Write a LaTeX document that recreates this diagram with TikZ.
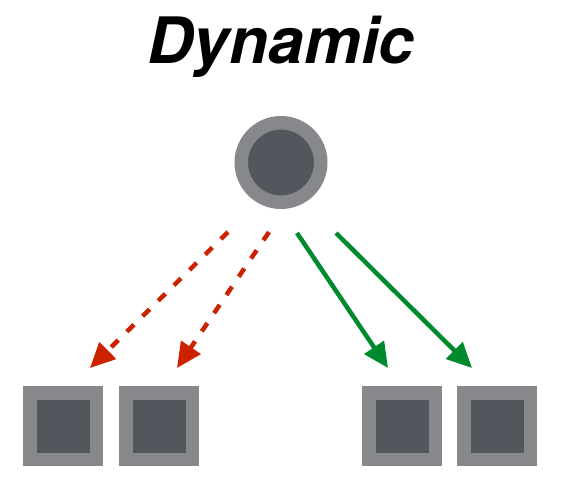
\documentclass[tikz,border=0pt]{standalone}
\usepackage{fontspec}
\setmainfont{TeX Gyre Heros}
\usetikzlibrary{arrows.meta, positioning}
\definecolor{ringgray}{HTML}{86888C}
\definecolor{coregray}{HTML}{53565D}
\definecolor{dynred}{HTML}{CC2200}
\definecolor{dyngreen}{HTML}{008A2E}

\begin{document}
\begin{tikzpicture}[x=1pt, y=-1pt,
    hub/.style={circle, draw=ringgray, line width=13.5pt, fill=coregray, minimum size=79.5pt, inner sep=0pt},
    slot/.style={rectangle, draw=ringgray, line width=13.5pt, fill=coregray, minimum size=66.5pt, inner sep=0pt},
    redarrow/.style={draw=dynred, line width=4.5pt, dash pattern=on 10pt off 12pt, -{Triangle[length=25pt, width=23pt]}},
    greenarrow/.style={draw=dyngreen, line width=4.5pt, -{Triangle[length=25pt, width=23pt]}}]
            \useasboundingbox (0,0) rectangle (564,491);
            \node[font=\fontsize{64}{70}\selectfont\bfseries\itshape] (title) at (281,47) {Dynamic};
            \node[hub] (server) at (281,162.5) {};
            \node[slot] (slotA) at (63,426) {};
            \node[slot] (slotB) at (159,426) {};
            \node[slot] (slotC) at (402,426) {};
            \node[slot] (slotD) at (497,426) {};
            \coordinate (redA) at (228,232);
            \coordinate (redB) at (269,232);
            \coordinate (greenA) at (297,233);
            \coordinate (greenB) at (336,233);
            \coordinate (tipA) at (90,368);
            \coordinate (tipB) at (177,368);
            \coordinate (tipC) at (388,368);
            \coordinate (tipD) at (472,368);
            \draw[redarrow] (redA) -- (tipA);
            \draw[redarrow] (redB) -- (tipB);
            \draw[greenarrow] (greenA) -- (tipC);
            \draw[greenarrow] (greenB) -- (tipD);
        \end{tikzpicture}
\end{document}
